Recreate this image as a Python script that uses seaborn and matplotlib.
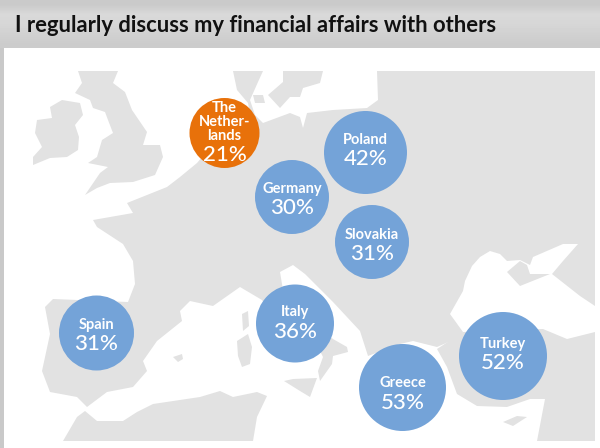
import numpy as np
import pandas as pd
import matplotlib.pyplot as plt
from matplotlib.patches import Polygon, Rectangle
import seaborn as sns

# ===== data =====
title = 'I regularly discuss my financial affairs with others'
countries = ['The\nNether-\nlands', 'Poland', 'Germany', 'Slovakia', 'Spain', 'Italy', 'Greece', 'Turkey']
values = [21, 42, 30, 31, 31, 36, 53, 52]
bubble_x = [224.5, 365.5, 292, 372, 96.5, 295, 402.5, 503]
bubble_y = [133, 152.5, 197, 242, 333, 323.5, 387.5, 356]
bubble_d = [70, 83, 74, 74, 75, 78, 87, 88]
label_y = [122, 140, 189, 235, 325, 312, 383, 344]
value_y = [155, 159, 208, 254, 344, 332, 403, 363]

# map outlines, in picture pixels
europe = [(377, 71), (595, 71), (595, 306), (580, 296), (552, 274), (563, 261), (578, 244), (563, 244), (533, 257),
          (530, 265), (520, 260), (507, 261), (500, 254), (490, 251), (480, 257), (472, 266), (465, 281), (463, 291),
          (450, 314), (463, 332), (460, 337), (437, 347), (413, 341), (400, 344), (368, 356), (360, 331), (333, 302),
          (305, 274), (293, 265), (280, 272), (283, 290), (295, 310), (333, 339), (347, 347), (348, 352), (333, 356),
          (332, 364), (320, 381), (318, 371), (323, 357), (320, 351), (300, 345), (275, 320), (262, 300), (240, 287),
          (213, 306), (190, 301), (180, 311), (182, 321), (157, 341), (143, 361), (147, 371), (133, 387), (107, 392),
          (87, 407), (77, 397), (50, 392), (42, 371), (50, 334), (45, 307), (53, 299), (128, 302), (135, 284),
          (133, 261), (123, 244), (97, 227), (93, 220), (133, 213), (127, 203), (167, 187), (180, 177), (197, 163),
          (225, 130), (250, 115), (248, 103), (237, 90), (233, 71), (263, 71), (258, 82), (250, 100), (255, 115),
          (263, 123), (290, 113), (300, 117), (303, 128), (307, 113), (333, 110), (367, 108), (378, 100)]
ireland = [(50, 107), (62, 100), (80, 103), (83, 115), (75, 125), (79, 137), (78, 150), (67, 157), (50, 158),
           (33, 165), (33, 157), (42, 147), (35, 133), (37, 120), (52, 118)]
britain = [(78, 71), (118, 71), (113, 83), (125, 92), (132, 110), (147, 132), (143, 145), (160, 145), (163, 157),
           (155, 175), (133, 182), (110, 183), (97, 188), (85, 195), (100, 173), (108, 167), (88, 163), (97, 157),
           (102, 140), (113, 133), (108, 120), (105, 112), (93, 108), (90, 100), (75, 93), (82, 83)]
sweden = [(283, 71), (323, 71), (320, 83), (303, 88), (300, 97), (290, 97), (280, 108), (268, 95), (283, 82)]
zealand = [(253, 95), (263, 95), (265, 103), (255, 103)]
africa = [(63, 441), (77, 417), (85, 411), (97, 421), (123, 421), (137, 412), (153, 404), (200, 397), (220, 391),
          (233, 397), (257, 392), (267, 396), (257, 417), (253, 441)]
turkey = [(595, 332), (567, 339), (543, 329), (463, 332), (437, 349), (447, 367), (457, 394), (477, 406), (507, 407),
          (530, 399), (545, 399), (537, 441), (595, 441)]
corsica = [(242, 314), (248, 311), (249, 326), (243, 331)]
sardinia = [(237, 341), (248, 334), (252, 347), (250, 364), (242, 367), (238, 356)]
mallorca = [(173, 357), (182, 354), (183, 359), (178, 362)]
sicily = [(284, 381), (293, 379), (317, 378), (310, 397), (300, 391)]
crimea = [(507, 272), (520, 261), (527, 265), (530, 274), (550, 274), (520, 286)]
cyprus = [(503, 422), (517, 416), (527, 417), (513, 426)]
land_shapes = [europe, ireland, britain, sweden, zealand, africa, turkey, corsica, sardinia, mallorca, sicily,
               crimea, cyprus]

df = pd.DataFrame({'country': countries, 'value': values, 'x': bubble_x, 'y': bubble_y, 'd': bubble_d,
                   'label_y': label_y, 'value_y': value_y})

sns.set_style('white')
plt.rcParams['font.family'] = ['Lato', 'DejaVu Sans']

fig = plt.figure(figsize=(6, 4.48), dpi=100)
ax = fig.add_axes([0, 0, 1, 1])

# ===== header and frame =====
gradient = np.array([[0.79], [0.85], [0.84], [0.82], [0.80]])
ax.imshow(gradient, cmap='gray', vmin=0, vmax=1, extent=(0, 600, 48, 0), aspect='auto', zorder=1,
          interpolation='bilinear')
ax.add_patch(Rectangle((0, 48), 3.5, 400, color='#c9c9c9', lw=0, zorder=1))
ax.text(15, 26, title, fontsize=15.85, fontweight='bold', color='#111111', va='center', zorder=5)

# ===== map =====
for shape in land_shapes:
    ax.add_patch(Polygon(shape, closed=True, facecolor='#e2e2e2', edgecolor='none', zorder=2))

# ===== bubbles =====
colors = {c: '#e8710a' if c.startswith('The') else '#74a3d8' for c in countries}
sizes = {c: (d * 72 / fig.dpi) ** 2 for c, d in zip(countries, bubble_d)}
sns.scatterplot(data=df, x='x', y='y', hue='country', palette=colors, size='country', sizes=sizes,
                linewidth=0, legend=False, ax=ax, zorder=3)

for _, row in df.iterrows():
    ax.text(row['x'], row['label_y'], row['country'], ha='center', va='center', color='white',
            fontsize=10.5, fontweight='bold', linespacing=1.0, zorder=4)
    ax.text(row['x'], row['value_y'], f"{row['value']}%", ha='center', va='center', color='white',
            fontsize=16, fontweight='medium', zorder=4)

ax.set_xlim(0, 600)
ax.set_ylim(448, 0)
ax.axis('off')
fig.savefig('out.png', dpi=100)
